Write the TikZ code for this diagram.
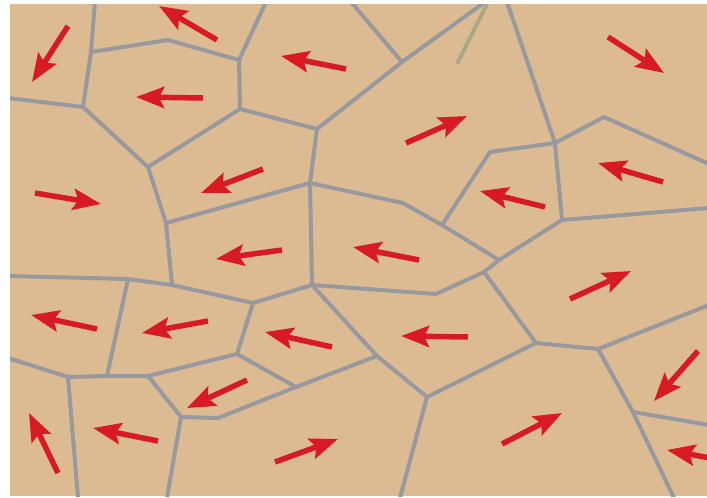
\documentclass[tikz,border=0pt]{standalone}
\usetikzlibrary{arrows.meta}
\definecolor{tan}{RGB}{220,186,146}
\definecolor{edgegray}{RGB}{152,153,158}
\definecolor{arrred}{RGB}{216,26,36}
\definecolor{olive}{RGB}{168,168,136}
\tikzset{
  cell/.style={draw=edgegray, line width=4pt, line join=round, line cap=round},
  faint/.style={draw=olive, line width=4pt, line cap=round},
  vec/.style={draw=arrred, line width=5.5pt, -{Stealth[length=28pt, width=21pt, inset=5pt]}}
}
\begin{document}
\begin{tikzpicture}[x=1pt, y=-1pt]
\useasboundingbox (0,0) rectangle (707,498);
\fill[white] (0,0) rectangle (707,498);
\fill[tan] (10,4) rectangle (707,496);
\begin{scope}
\clip (10,4) rectangle (707,496);
% cell edges
\draw[cell] (95,2)--(91,52)--(83,107);
\draw[cell] (8,98)--(83,107);
\draw[cell] (91,52)--(168,40)--(239,60);
\draw[cell] (239,60)--(266,2);
\draw[cell] (239,60)--(240,109);
\draw[cell] (83,107)--(148,167);
\draw[cell] (240,109)--(148,167);
\draw[cell] (240,109)--(317,129);
\draw[cell] (317,129)--(402,62)--(485,2);
\draw[cell] (351,2)--(402,62);
\draw[cell] (317,129)--(310,183);
\draw[cell] (148,167)--(166,223);
\draw[cell] (166,223)--(310,183);
\draw[cell] (166,223)--(172,285);
\draw[cell] (310,183)--(403,203)--(442,225)--(499,260);
\draw[cell] (310,183)--(312,285);
\draw[cell] (8,276)--(128,279)--(172,285)--(253,303)--(312,285);
\draw[cell] (312,285)--(436,294)--(484,272)--(499,260)--(562,220);
\draw[cell] (484,272)--(536,343);
\draw[cell] (536,343)--(598,349)--(709,305);
\draw[cell] (598,349)--(633,412)--(674,498);
\draw[cell] (633,412)--(709,425);
\draw[cell] (536,343)--(427,397)--(400,498);
\draw[cell] (427,397)--(377,356)--(312,285);
\draw[cell] (377,356)--(296,387)--(218,418)--(181,417)--(167,498);
\draw[cell] (296,387)--(237,354)--(253,303);
\draw[cell] (237,354)--(148,376)--(107,376)--(68,377)--(8,358);
\draw[cell] (128,279)--(107,376);
\draw[cell] (148,376)--(181,417);
\draw[cell] (68,377)--(78,498);
\draw[cell] (507,2)--(555,143);
\draw[cell] (555,143)--(604,117)--(709,164);
\draw[cell] (555,143)--(490,152)--(442,225);
\draw[cell] (555,143)--(562,220)--(709,208);
\draw[faint] (488,2)--(458,62);
% arrows
\draw[vec] (68,26)--(32,82);
\draw[vec] (217,40)--(159,6);
\draw[vec] (203,98)--(136,97);
\draw[vec] (346,69)--(281,56);
\draw[vec] (406,143)--(467,116);
\draw[vec] (608,37)--(664,73);
\draw[vec] (263,169)--(201,193);
\draw[vec] (282,250)--(216,259);
\draw[vec] (35,193)--(101,204);
\draw[vec] (419,260)--(353,247);
\draw[vec] (545,207)--(480,191);
\draw[vec] (663,182)--(598,163);
\draw[vec] (570,299)--(631,271);
\draw[vec] (97,329)--(31,315);
\draw[vec] (208,321)--(142,333);
\draw[vec] (332,347)--(265,332);
\draw[vec] (247,380)--(187,408);
\draw[vec] (468,337)--(401,336);
\draw[vec] (275,462)--(338,439);
\draw[vec] (502,444)--(562,413);
\draw[vec] (698,351)--(654,401);
\draw[vec] (732,462)--(667,450);
\draw[vec] (58,473)--(29,413);
\draw[vec] (158,441)--(93,428);
\end{scope}
\end{tikzpicture}
\end{document}
